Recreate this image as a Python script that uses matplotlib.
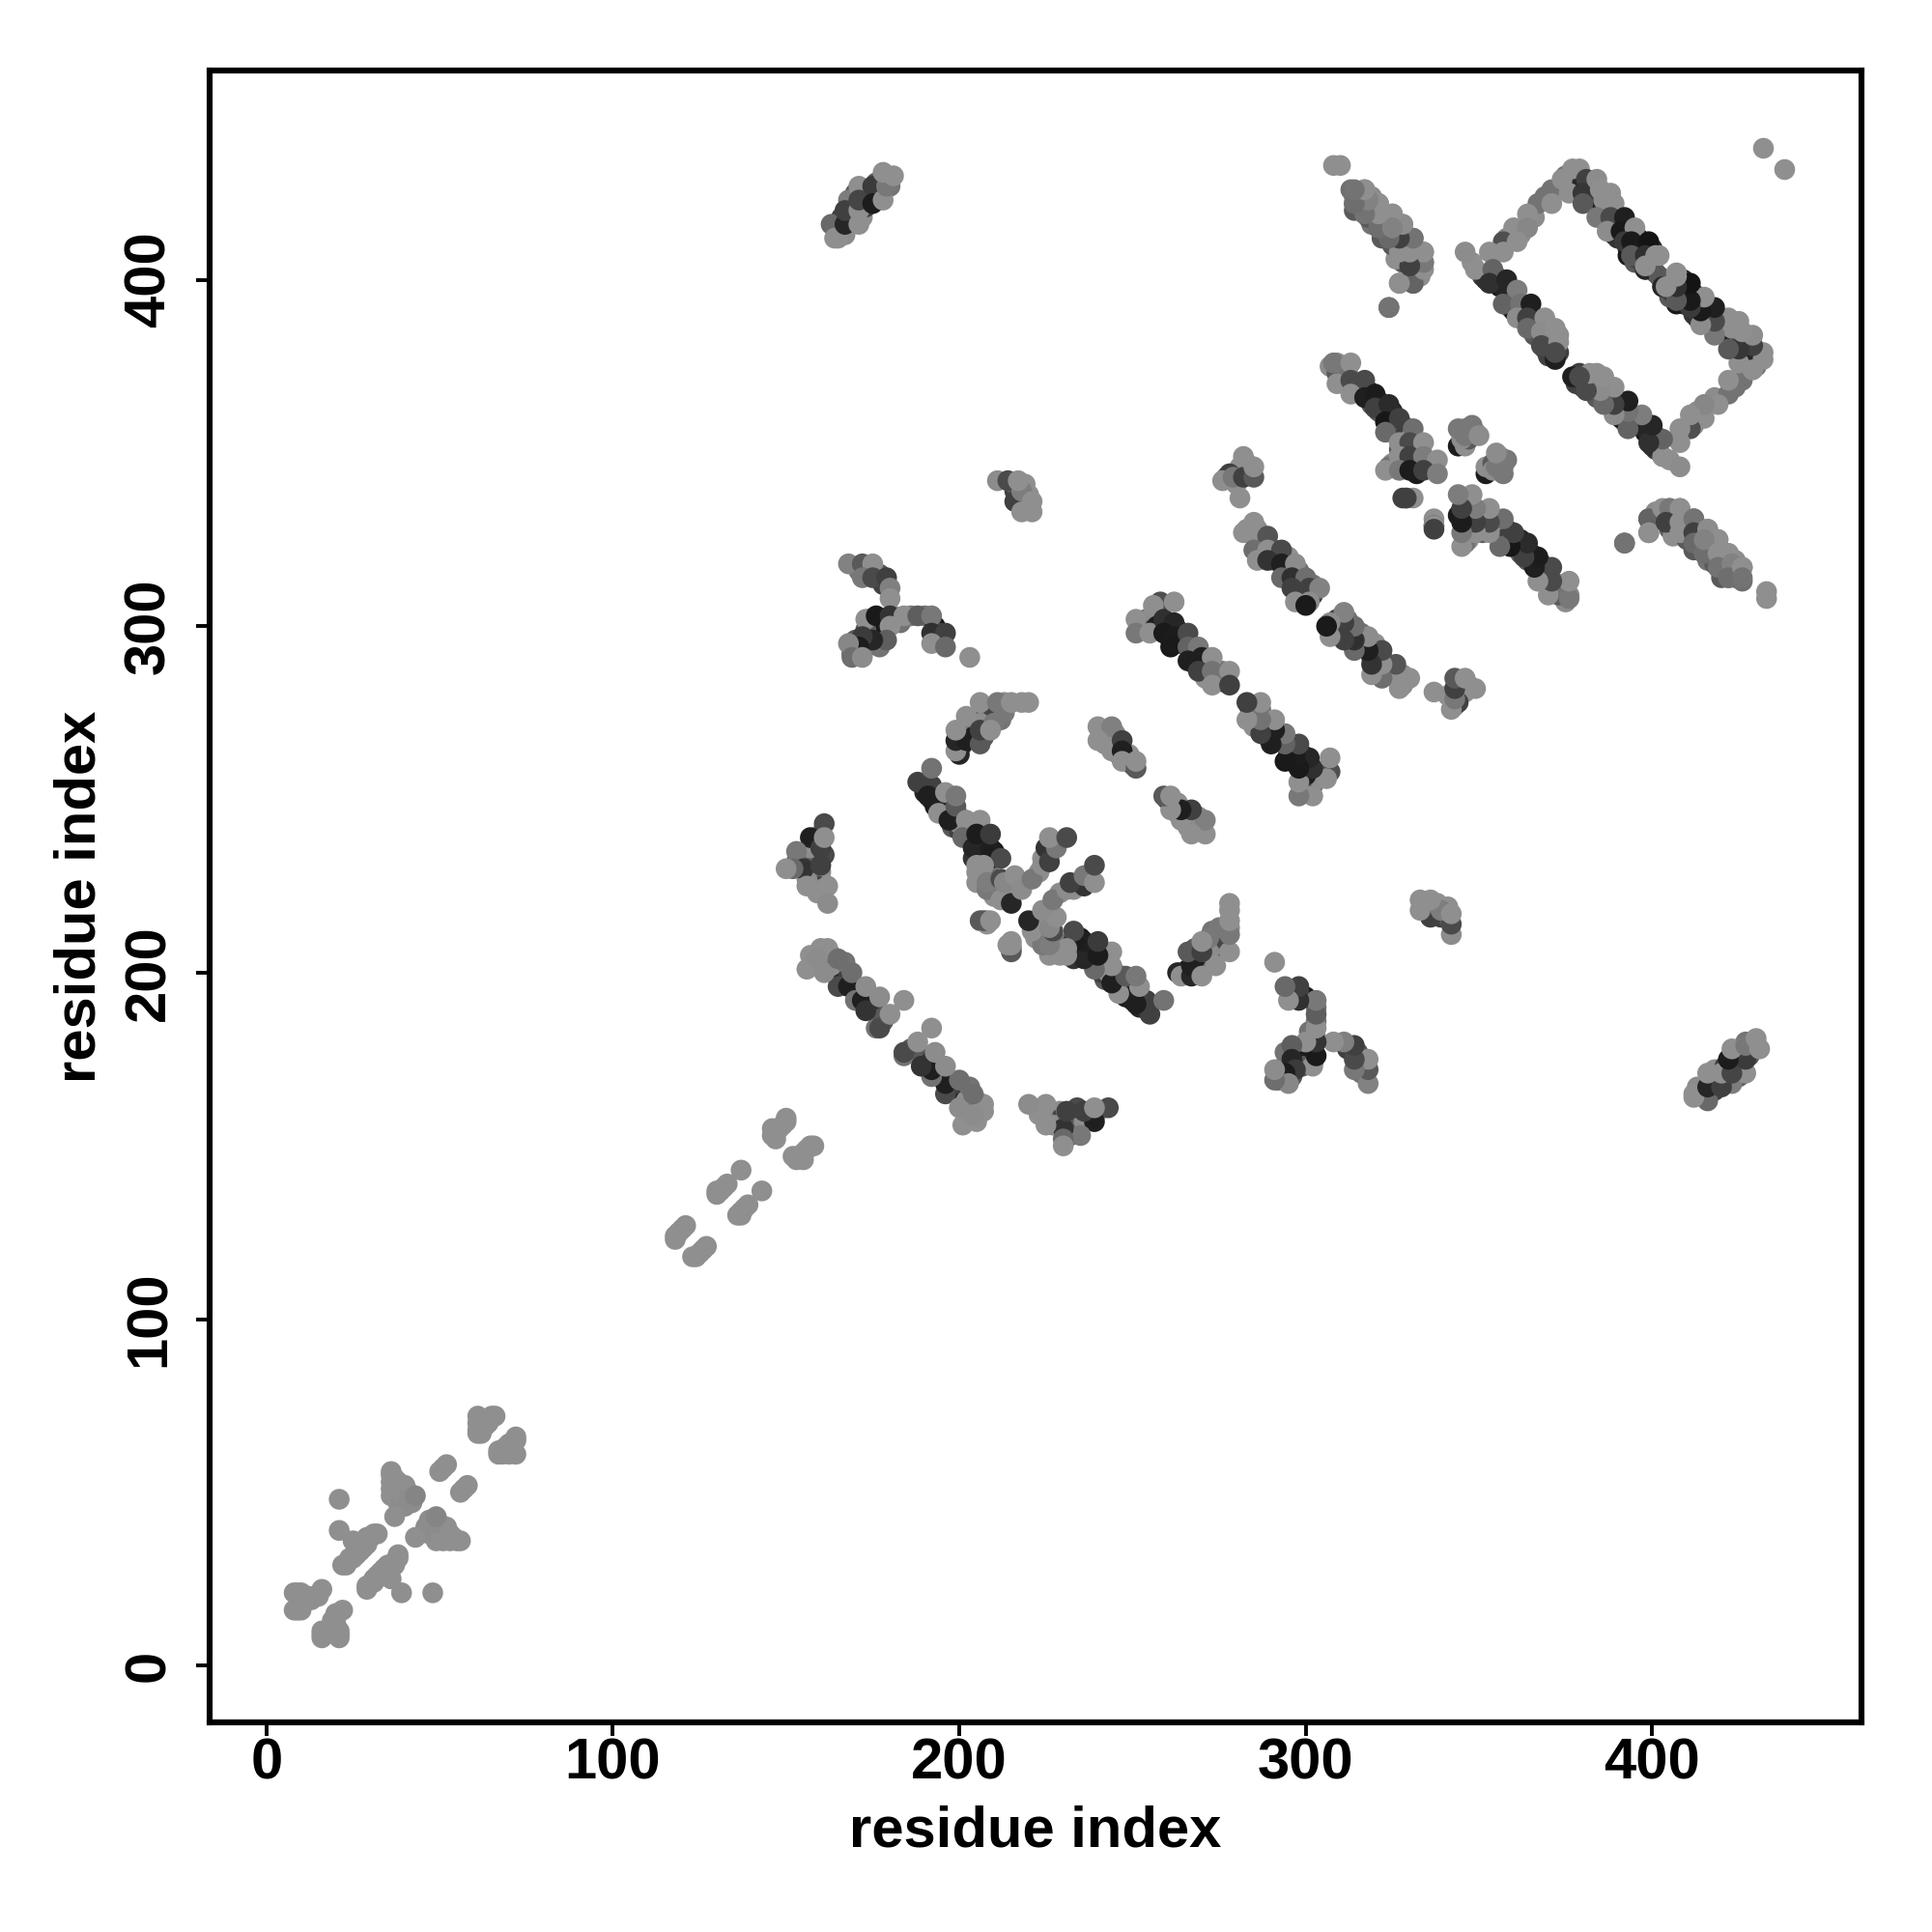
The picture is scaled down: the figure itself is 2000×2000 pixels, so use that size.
import matplotlib
matplotlib.use("Agg")
import matplotlib.pyplot as plt

plt.rcParams['font.family'] = ['Liberation Sans', 'DejaVu Sans']

# contact pairs read off the upper triangle, the map is symmetric so i < j only
# shade: 0 black .. 1 white
a_i = [8, 8, 9, 10, 9, 10, 11, 12, 13, 14, 15, 16, 21, 21, 22, 23, 24, 25, 26, 27, 28, 29, 25, 27, 29, 30, 31, 32, 28, 26]
a_j = [21, 16, 16, 16, 21, 21, 20, 20, 19, 20, 20, 22, 48, 39, 29, 29, 31, 31, 32, 33, 34, 35, 36, 35, 37, 37, 38, 38, 36, 34]
a_g = [.56, .52, .52, .56, .56, .56, .56, .56, .56, .56, .56, .56, .56, .56, .56, .56, .56, .56, .56, .56, .56, .56, .56, .56, .56, .56, .56, .56, .56, .56]

b_i = [36, 36, 36, 36, 37, 36, 37, 38, 39, 40, 41, 38, 39, 40, 41, 42, 37, 42, 39, 41, 43, 50, 51, 52, 61, 61, 61, 61, 62, 63, 62, 64, 65, 66, 64]
b_j = [56, 55, 53, 51, 54, 49, 49, 53, 52, 52, 50, 47, 47, 46, 47, 47, 43, 48, 50, 48, 49, 56, 57, 58, 72, 70, 68, 67, 67, 69, 70, 70, 72, 72, 71]
b_g = [.56, .56, .56, .56, .56, .56, .56, .56, .56, .56, .56, .52, .5, .5, .5, .5, .56, .5, .56, .5, .47, .56, .56, .56, .56, .56, .54, .54, .56, .56, .56, .56, .56, .56, .56]

c_i = [118, 119, 120, 121, 118, 130, 131, 132, 133, 130, 137, 146, 147, 146, 148, 149, 150, 150, 147]
c_j = [124, 125, 126, 127, 123, 136, 137, 138, 139, 137, 143, 153, 154, 155, 155, 156, 158, 157, 152]
c_g = [.56, .56, .56, .56, .56, .54, .56, .56, .56, .54, .52, .56, .56, .56, .56, .56, .56, .54, .56]

# strand 155-180 against 207-184
d_i = [165, 168, 170, 172, 173, 177, 157, 156, 160, 162, 159, 161, 165, 169, 173, 177, 180, 184]
d_j = [196, 196, 192, 192, 189, 184, 205, 201, 207, 207, 204, 200, 204, 200, 196, 193, 188, 192]
d_g = [.24, .07, .4, .07, .15, .24, .56, .56, .56, .56, .5, .5, .38, .38, .5, .5, .56, .58]
d2_i = [158, 160, 161, 163, 164, 166, 167, 168, 169, 170, 171, 172, 174, 175, 176, 174, 177, 178, 176, 178, 163, 160, 167]
d2_j = [203, 204, 203, 205, 201, 201, 199, 200, 197, 196, 195, 194, 193, 191, 190, 190, 188, 187, 184, 186, 202, 202, 203]
d2_g = [.3, .15, .3, .2, .2, .07, .1, .2, .3, .1, .2, .07, .15, .1, .2, .07, .15, .3, .4, .3, .56, .4, .4]

e_i = [161, 157, 153, 160, 155, 152, 160, 156, 159, 150, 161, 162, 162]
e_j = [243, 239, 235, 236, 230, 230, 231, 225, 223, 230, 239, 225, 220]
e_g = [.24, .07, .42, .2, .15, .36, .2, .56, .54, .58, .56, .58, .5]
e2_i = [154, 156, 158, 157, 158, 156, 159, 160, 157, 158, 160, 161, 160, 159, 160, 156, 153]
e2_j = [233, 235, 234, 232, 228, 228, 227, 226, 236, 237, 240, 234, 229, 225, 224, 227, 232]
e2_g = [.1, .3, .56, .3, .56, .5, .3, .56, .5, .56, .5, .24, .5, .22, .5, .5, .3]

# arm 188-232 around the crossing at 222
f_i = [188, 192, 192, 191, 194, 194, 196, 197, 199, 199, 202, 206, 201, 204, 205, 209, 209, 209, 212, 205, 207, 205, 208, 208, 212, 212, 215, 213, 216, 218, 221, 224, 225, 226, 228, 226, 231, 206, 208, 208, 215, 215]
f_j = [255, 254, 259, 251, 250, 246, 252, 244, 248, 251, 244, 244, 239, 236, 240, 236, 233, 240, 233, 231, 231, 226, 224, 226, 227, 221, 220, 226, 228, 224, 227, 231, 236, 232, 236, 239, 239, 215, 215, 214, 207, 209]
f_g = [.2, .2, .4, .07, .07, .56, .56, .07, .3, .42, .56, .56, .36, .1, .06, .07, .06, .18, .24, .54, .56, .56, .42, .44, .24, .56, .1, .48, .58, .5, .42, .5, .15, .2, .42, .58, .24, .3, .58, .56, .3, .58]
f2_i = [190, 191, 192, 195, 193, 197, 198, 199, 200, 198, 200, 201, 203, 203, 205, 204, 207, 207, 208, 208, 210, 200, 203, 206, 207, 205, 209, 210, 211, 212, 213, 214, 216, 214, 217, 210, 226, 225, 226, 224, 223, 209]
f2_j = [252, 254, 250, 248, 248, 246, 245, 246, 245, 242, 241, 242, 243, 240, 237, 233, 238, 235, 238, 234, 235, 243, 241, 229, 228, 229, 225, 226, 224, 224, 222, 221, 224, 223, 225, 222, 235, 233, 237, 233, 229, 228]
f2_g = [.1, .2, .06, .3, .06, .06, .05, .1, .3, .3, .2, .05, .05, .1, .1, .15, .05, .05, .1, .06, .05, .5, .56, .5, .56, .56, .3, .56, .2, .56, .56, .06, .5, .56, .56, .56, .2, .4, .06, .56, .5, .4]

g_i = [199, 199, 202, 206, 199, 202, 206, 206, 210, 209, 211, 213, 215, 218, 220]
g_j = [264, 267, 267, 266, 270, 274, 278, 270, 272, 270, 278, 275, 278, 278, 278]
g_g = [.56, .1, .07, .3, .58, .56, .56, .2, .42, .52, .42, .42, .58, .58, .52]
g2_i = [200, 201, 203, 203, 204, 205, 207, 208, 209, 208, 207, 204, 212, 210, 212, 213, 206, 200]
g2_j = [265, 266, 268, 270, 272, 274, 273, 272, 275, 276, 268, 268, 277, 274, 273, 278, 272, 263]
g2_g = [.07, .06, .2, .1, .4, .5, .2, .2, .5, .4, .3, .06, .4, .22, .4, .5, .5, .1]

h_i = [240, 244, 240, 244, 247, 247, 247, 251, 251]
h_j = [271, 271, 267, 264, 267, 264, 261, 259, 261]
h_g = [.52, .45, .56, .56, .2, .07, .52, .3, .58]
h2_i = [241, 242, 243, 242, 245, 246, 249, 250, 249, 245, 248]
h2_j = [269, 269, 267, 266, 265, 263, 263, 260, 261, 269, 262]
h2_g = [.3, .56, .2, .56, .07, .2, .56, .2, .1, .5, .56]

# strand 250-278 against 307-283
k_i = [258, 256, 251, 251, 255, 259, 262, 259, 262, 266, 261, 266, 269, 266, 270, 273, 269, 273, 278, 273, 278, 262]
k_j = [307, 306, 302, 298, 298, 302, 301, 298, 297, 298, 294, 294, 294, 290, 291, 291, 287, 287, 287, 283, 283, 307]
k_g = [.26, .56, .56, .42, .54, .14, .1, .05, .06, .24, .05, .34, .42, .07, .07, .54, .2, .4, .56, .56, .2, .56]
k2_i = [253, 254, 256, 257, 258, 260, 261, 263, 263, 264, 265, 267, 268, 268, 270, 271, 272, 271, 275, 274, 276, 276]
k2_j = [300, 302, 304, 300, 299, 299, 296, 296, 299, 295, 296, 292, 293, 289, 288, 289, 286, 285, 285, 284, 284, 287]
k2_g = [.5, .3, .5, .07, .06, .07, .07, .3, .12, .15, .07, .07, .3, .15, .5, .2, .3, .56, .56, .2, .07, .4]

# strand 284-304 against 330-311
m_i = [285, 282, 285, 289, 285, 289, 293, 286, 289, 293, 297, 293, 296, 300, 296, 301, 304, 297, 301, 300]
m_j = [330, 327, 326, 326, 322, 322, 322, 319, 319, 318, 318, 314, 314, 314, 311, 311, 311, 307, 307, 306]
m_g = [.56, .56, .56, .28, .38, .56, .24, .54, .15, .07, .5, .36, .14, .38, .2, .2, .46, .56, .5, .05]
m2_i = [283, 286, 287, 287, 288, 290, 291, 291, 294, 295, 295, 298, 298, 299, 302, 298, 299, 302, 300]
m2_j = [328, 328, 324, 322, 320, 320, 322, 319, 316, 316, 320, 316, 312, 310, 309, 308, 308, 312, 308]
m2_g = [.5, .5, .3, .2, .1, .07, .56, .2, .07, .3, .56, .4, .14, .1, .2, .5, .14, .4, .1]

n_i = [276, 279, 282, 281, 285, 282, 285]
n_j = [342, 343, 343, 337, 343, 349, 346]
n_g = [.56, .42, .2, .56, .3, .56, .58]
n2_i = [277, 280, 280, 283, 283, 281, 284, 278]
n2_j = [343, 344, 341, 345, 347, 346, 344, 344]
n2_g = [.5, .3, .56, .4, .5, .56, .4, .2]

# cluster 164-181 / 412-431
p_i = [163, 164, 165, 167, 168, 167, 171, 171, 171, 171, 175, 175, 178, 179, 178, 181]
p_j = [416, 412, 412, 416, 423, 420, 416, 420, 427, 423, 427, 422, 423, 427, 431, 430]
p_g = [.36, .56, .56, .1, .44, .2, .56, .54, .56, .22, .18, .06, .54, .42, .54, .56]
p2_i = [165, 166, 169, 169, 170, 172, 173, 173, 174, 176, 176, 177, 178, 179, 180, 167]
p2_j = [415, 418, 421, 417, 425, 418, 421, 425, 423, 424, 428, 426, 425, 429, 427, 413]
p2_g = [.5, .2, .22, .07, .3, .56, .2, .06, .07, .4, .3, .2, .4, .5, .4, .5]

q_i = [211, 214, 216, 218, 217, 221, 218, 221]
q_j = [342, 342, 336, 339, 342, 336, 333, 333]
q_g = [.5, .24, .2, .44, .56, .56, .56, .56]
q2_i = [216, 217, 218, 219, 220, 216, 219]
q2_j = [339, 337, 335, 335, 338, 341, 341]
q2_g = [.2, .2, .2, .56, .56, .3, .56]

r_i = [168, 172, 175, 172, 175, 179, 180, 180, 173, 176, 180, 180, 184, 188, 192, 192, 196, 192, 196, 203, 179, 175, 172, 171, 168, 169, 172]
r_j = [318, 318, 318, 314, 314, 314, 311, 308, 302, 303, 303, 300, 303, 303, 303, 298, 298, 295, 294, 291, 296, 296, 297, 294, 295, 291, 291]
r_g = [.46, .3, .56, .42, .24, .2, .45, .54, .52, .05, .15, .55, .54, .32, .42, .14, .2, .56, .36, .56, .32, .1, .18, .06, .48, .38, .5]
r2_i = [174, 175, 175, 177, 178, 178, 181, 183, 181, 186, 190, 193, 174, 173, 170, 172, 170, 177, 176, 173, 169, 193, 194, 174, 171, 177, 178]
r2_j = [302, 300, 299, 300, 302, 298, 301, 301, 303, 303, 303, 300, 295, 294, 296, 292, 293, 294, 298, 299, 292, 296, 298, 316, 316, 315, 312]
r2_g = [.1, .2, .3, .07, .05, .2, .07, .4, .5, .42, .4, .06, .07, .2, .3, .3, .3, .4, .06, .3, .3, .5, .2, .3, .4, .3, .2]

# strand 313-334 against 426-405, plus stragglers
s_i = [313, 317, 314, 318, 321, 317, 321, 325, 321, 325, 328, 325, 327, 328, 331, 331, 334, 334, 331, 327, 331, 324, 308, 310]
s_j = [426, 426, 422, 423, 422, 419, 419, 419, 415, 415, 416, 412, 408, 412, 412, 404, 408, 405, 403, 399, 399, 392, 433, 433]
s_g = [.38, .56, .42, .56, .56, .4, .56, .56, .4, .48, .54, .38, .54, .2, .42, .24, .56, .42, .56, .42, .3, .4, .56, .56]
s2_i = [315, 316, 319, 320, 322, 323, 326, 323, 326, 326, 328, 329, 330, 331, 330, 333, 329, 332, 319]
s2_j = [424, 421, 420, 417, 416, 414, 414, 412, 411, 409, 407, 409, 409, 406, 410, 404, 405, 406, 424]
s2_g = [.38, .5, .4, .3, .5, .4, .5, .38, .3, .3, .2, .06, .25, .25, .3, .4, .3, .2, .5]

# rectangle arm 346-371 / 408-426
t_i = [371, 367, 371, 364, 360, 364, 357, 361, 353, 357, 346, 349]
t_j = [426, 422, 422, 419, 415, 415, 411, 411, 408, 408, 408, 403]
t_g = [.4, .4, .56, .56, .54, .48, .26, .56, .58, .56, .5, .58]
t2_i = [369, 358, 362, 355, 348, 366]
t2_j = [424, 412, 413, 408, 405, 418]
t2_g = [.4, .5, .5, .56, .56, .5]

# strand 376-402 against 432-405
u_i = [374, 377, 376, 379, 381, 380, 384, 380, 388, 385, 389, 384, 388, 392, 387, 391, 395, 392, 394, 399, 394, 398, 401, 398]
u_j = [429, 432, 425, 432, 429, 425, 429, 422, 425, 426, 422, 418, 418, 418, 414, 414, 415, 411, 411, 411, 407, 407, 407, 404]
u_g = [.56, .58, .56, .58, .2, .16, .5, .3, .54, .56, .56, .42, .24, .07, .5, .05, .54, .18, .05, .03, .3, .14, .56, .56]
u2_i = [375, 378, 378, 382, 381, 383, 383, 385, 386, 386, 389, 390, 389, 390, 392, 393, 396, 396, 393, 395, 400, 399, 396, 398, 400, 401, 398, 402]
u2_j = [430, 429, 427, 427, 424, 422, 423, 420, 419, 423, 416, 418, 413, 412, 413, 409, 409, 412, 407, 405, 409, 407, 406, 403, 404, 402, 403, 407]
u2_g = [.4, .3, .1, .1, .06, .07, .2, .06, .1, .56, .06, .3, .1, .15, .05, .12, .05, .06, .05, .3, .1, .05, .2, .25, .06, .3, .1, .56]

# strand 349-372 against 403-377
v_i = [349, 354, 353, 358, 361, 357, 362, 365, 361, 364, 369, 364, 368, 372, 368, 373, 372, 372]
v_j = [403, 403, 399, 400, 397, 393, 393, 393, 389, 389, 389, 386, 385, 386, 381, 382, 377, 379]
v_g = [.56, .34, .14, .1, .44, .34, .4, .07, .5, .2, .54, .36, .5, .54, .24, .56, .07, .24]
v2_i = [351, 352, 355, 356, 357, 359, 358, 360, 359, 363, 362, 365, 360, 366, 367, 364, 366, 369, 370, 371, 369, 370, 373, 373, 368]
v2_j = [401, 400, 401, 398, 398, 396, 396, 394, 392, 391, 391, 390, 391, 387, 388, 387, 384, 386, 383, 381, 380, 378, 379, 384, 383]
v2_g = [.2, .14, .3, .05, .1, .3, .1, .1, .4, .2, .15, .3, .06, .3, .1, .2, .3, .3, .2, .25, .25, .2, .2, .56, .3]

# strand 308-338 against 376-344
w_i = [308, 313, 309, 313, 317, 313, 317, 320, 320, 324, 323, 327, 323, 331, 327, 330, 334, 327, 330, 334, 338, 323, 327, 330, 334, 338]
w_j = [376, 376, 370, 371, 371, 367, 366, 367, 363, 364, 359, 360, 356, 357, 353, 353, 353, 349, 349, 349, 348, 345, 345, 345, 345, 344]
w_g = [.42, .54, .56, .24, .24, .56, .07, .06, .2, .12, .04, .2, .36, .38, .56, .24, .56, .56, .2, .44, .56, .56, .42, .06, .2, .44]
w2_i = [311, 310, 312, 315, 315, 318, 318, 319, 321, 322, 321, 325, 325, 324, 326, 328, 328, 329, 330, 327, 331, 329, 332, 325, 333, 336, 324, 328, 332, 337, 307, 309, 309, 312]
w2_j = [373, 372, 373, 369, 368, 368, 366, 364, 365, 362, 362, 362, 360, 358, 357, 358, 355, 356, 354, 351, 351, 347, 346, 347, 347, 346, 346, 346, 344, 346, 375, 376, 373, 374]
w2_g = [.2, .1, .3, .07, .1, .06, .1, .3, .1, .05, .3, .1, .06, .06, .2, .3, .3, .2, .56, .3, .2, .56, .3, .56, .3, .5, .4, .07, .05, .3, .5, .5, .3, .4]

x_i = [346, 349, 346, 344, 346, 329, 328, 337, 337, 347, 345, 348, 344, 346, 350]
x_j = [357, 356, 353, 352, 352, 337, 337, 331, 329, 354, 354, 358, 357, 355, 355]
x_g = [.42, .56, .56, .06, .52, .56, .2, .56, .2, .3, .5, .42, .42, .42, .5]

# far strand 392-426 against 334-313
y_i = [399, 399, 392, 403, 405, 408, 404, 408, 408, 412, 412, 412, 416, 419, 415, 415, 419, 422, 419, 423, 422, 426, 426]
y_j = [331, 327, 324, 334, 334, 334, 330, 330, 327, 331, 327, 324, 328, 325, 321, 325, 321, 321, 317, 318, 314, 317, 314]
y_g = [.34, .52, .4, .56, .42, .56, .2, .56, .54, .4, .2, .36, .5, .54, .38, .46, .56, .56, .4, .46, .38, .56, .4]
y2_i = [401, 402, 406, 407, 405, 406, 409, 410, 411, 410, 413, 412, 414, 417, 416, 418, 420, 421, 420, 424, 424]
y2_j = [333, 331, 331, 329, 328, 326, 327, 329, 328, 325, 326, 322, 324, 323, 319, 318, 319, 316, 314, 316, 314]
y2_g = [.5, .3, .3, .07, .3, .56, .2, .3, .07, .3, .4, .3, .5, .5, .4, .3, .5, .4, .3, .5, .4]

z_i = [432]
z_j = [438]
z_g = [.56]

clusters = [(a_i, a_j, a_g), (b_i, b_j, b_g), (c_i, c_j, c_g),
            (d2_i, d2_j, d2_g), (d_i, d_j, d_g), (e2_i, e2_j, e2_g), (e_i, e_j, e_g),
            (f2_i, f2_j, f2_g), (f_i, f_j, f_g), (g2_i, g2_j, g2_g), (g_i, g_j, g_g),
            (h2_i, h2_j, h2_g), (h_i, h_j, h_g), (k2_i, k2_j, k2_g), (k_i, k_j, k_g),
            (m2_i, m2_j, m2_g), (m_i, m_j, m_g), (n2_i, n2_j, n2_g), (n_i, n_j, n_g),
            (p2_i, p2_j, p2_g), (p_i, p_j, p_g), (q2_i, q2_j, q2_g), (q_i, q_j, q_g),
            (r2_i, r2_j, r2_g), (r_i, r_j, r_g), (s2_i, s2_j, s2_g), (s_i, s_j, s_g),
            (t2_i, t2_j, t2_g), (t_i, t_j, t_g), (u2_i, u2_j, u2_g), (u_i, u_j, u_g),
            (v2_i, v2_j, v2_g), (v_i, v_j, v_g), (w2_i, w2_j, w2_g), (w_i, w_j, w_g),
            (x_i, x_j, x_g), (y2_i, y2_j, y2_g), (y_i, y_j, y_g), (z_i, z_j, z_g)]

ticks = [0, 100, 200, 300, 400]

fig = plt.figure(figsize=(10, 10), dpi=200)
ax = fig.add_axes([217 / 2000, 217 / 2000, 1710 / 2000, 1710 / 2000])

for res_i, res_j, shade in clusters:
    colors = [str(min(0.56, s + 0.05)) for s in shade]
    ax.scatter(res_i, res_j, s=60, c=colors, linewidths=0, zorder=3)
    ax.scatter(res_j, res_i, s=60, c=colors, linewidths=0, zorder=3)

ax.set_xlim(-16.4, 460.4)
ax.set_ylim(-16.4, 460.4)
ax.set_xticks(ticks)
ax.set_yticks(ticks)
for spine in ax.spines.values():
    spine.set_linewidth(2.2)
ax.tick_params(axis='x', length=5, width=1.4, pad=0.5, labelsize=21.5)
ax.tick_params(axis='y', length=5, width=1.4, pad=7.5, labelsize=21.5)
for lab in ax.get_xticklabels():
    lab.set_fontweight('bold')
for lab in ax.get_yticklabels():
    lab.set_fontweight('bold')
    lab.set_rotation(90)
    lab.set_verticalalignment('center')
ax.set_xlabel("residue index", fontsize=21.5, fontweight='bold', labelpad=5.5)
ax.set_ylabel("residue index", fontsize=21.5, fontweight='bold', labelpad=6)

fig.savefig("out.png", dpi=200)
